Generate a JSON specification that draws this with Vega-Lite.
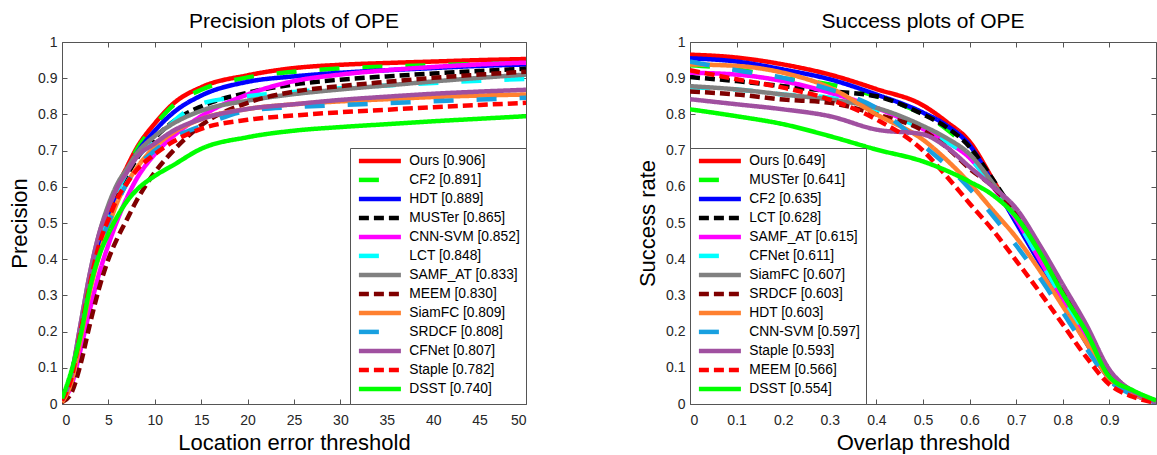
{
"$schema": "https://vega.github.io/schema/vega-lite/v6.json",
"background": "white",
"padding": {"left": 8, "top": 10, "right": 0, "bottom": 0},
"bounds": "flush",
"spacing": 164,
"config": {
  "font": "Liberation Sans",
  "view": {"stroke": "#555555", "strokeWidth": 1},
  "axis": {"grid": false, "domain": false, "tickSize": -5, "tickColor": "#555555", "tickWidth": 1, "labelColor": "#262626", "labelFontSize": 14, "titleFontSize": 22, "titleFontWeight": "normal", "titleColor": "#000000", "labelPadding": 10},
  "axisX": {"titlePadding": 5, "labelPadding": 14},
  "axisY": {"titlePadding": 6},
  "title": {"fontSize": 21, "fontWeight": "normal", "color": "#000000", "offset": 3}
},
"resolve": {"scale": {"color": "independent", "strokeDash": "independent"}, "legend": {"color": "independent", "strokeDash": "independent"}},
"datasets": {
"prec": [
{"m":"Ours [0.906]","t":0,"v":0.01},{"m":"Ours [0.906]","t":1,"v":0.08},{"m":"Ours [0.906]","t":2,"v":0.2},{"m":"Ours [0.906]","t":3,"v":0.33},{"m":"Ours [0.906]","t":4,"v":0.44},{"m":"Ours [0.906]","t":5,"v":0.52},{"m":"Ours [0.906]","t":6,"v":0.6},{"m":"Ours [0.906]","t":7,"v":0.655},{"m":"Ours [0.906]","t":8,"v":0.705},{"m":"Ours [0.906]","t":10,"v":0.775},{"m":"Ours [0.906]","t":12,"v":0.83},{"m":"Ours [0.906]","t":15,"v":0.875},{"m":"Ours [0.906]","t":20,"v":0.908},{"m":"Ours [0.906]","t":25,"v":0.928},{"m":"Ours [0.906]","t":30,"v":0.937},{"m":"Ours [0.906]","t":35,"v":0.942},{"m":"Ours [0.906]","t":40,"v":0.946},{"m":"Ours [0.906]","t":45,"v":0.95},{"m":"Ours [0.906]","t":50,"v":0.953},
{"m":"CF2 [0.891]","t":0,"v":0.01},{"m":"CF2 [0.891]","t":1,"v":0.08},{"m":"CF2 [0.891]","t":2,"v":0.2},{"m":"CF2 [0.891]","t":3,"v":0.33},{"m":"CF2 [0.891]","t":4,"v":0.44},{"m":"CF2 [0.891]","t":5,"v":0.52},{"m":"CF2 [0.891]","t":6,"v":0.6},{"m":"CF2 [0.891]","t":7,"v":0.65},{"m":"CF2 [0.891]","t":8,"v":0.7},{"m":"CF2 [0.891]","t":10,"v":0.77},{"m":"CF2 [0.891]","t":12,"v":0.825},{"m":"CF2 [0.891]","t":15,"v":0.868},{"m":"CF2 [0.891]","t":20,"v":0.902},{"m":"CF2 [0.891]","t":25,"v":0.918},{"m":"CF2 [0.891]","t":30,"v":0.927},{"m":"CF2 [0.891]","t":35,"v":0.932},{"m":"CF2 [0.891]","t":40,"v":0.936},{"m":"CF2 [0.891]","t":45,"v":0.939},{"m":"CF2 [0.891]","t":50,"v":0.941},
{"m":"HDT [0.889]","t":0,"v":0.01},{"m":"HDT [0.889]","t":1,"v":0.08},{"m":"HDT [0.889]","t":2,"v":0.2},{"m":"HDT [0.889]","t":3,"v":0.33},{"m":"HDT [0.889]","t":4,"v":0.44},{"m":"HDT [0.889]","t":5,"v":0.52},{"m":"HDT [0.889]","t":6,"v":0.59},{"m":"HDT [0.889]","t":7,"v":0.645},{"m":"HDT [0.889]","t":8,"v":0.69},{"m":"HDT [0.889]","t":10,"v":0.755},{"m":"HDT [0.889]","t":12,"v":0.805},{"m":"HDT [0.889]","t":15,"v":0.852},{"m":"HDT [0.889]","t":20,"v":0.89},{"m":"HDT [0.889]","t":25,"v":0.905},{"m":"HDT [0.889]","t":30,"v":0.915},{"m":"HDT [0.889]","t":35,"v":0.922},{"m":"HDT [0.889]","t":40,"v":0.928},{"m":"HDT [0.889]","t":45,"v":0.934},{"m":"HDT [0.889]","t":50,"v":0.938},
{"m":"MUSTer [0.865]","t":0,"v":0.01},{"m":"MUSTer [0.865]","t":1,"v":0.08},{"m":"MUSTer [0.865]","t":2,"v":0.19},{"m":"MUSTer [0.865]","t":3,"v":0.32},{"m":"MUSTer [0.865]","t":4,"v":0.43},{"m":"MUSTer [0.865]","t":5,"v":0.51},{"m":"MUSTer [0.865]","t":6,"v":0.58},{"m":"MUSTer [0.865]","t":7,"v":0.63},{"m":"MUSTer [0.865]","t":8,"v":0.675},{"m":"MUSTer [0.865]","t":10,"v":0.735},{"m":"MUSTer [0.865]","t":12,"v":0.78},{"m":"MUSTer [0.865]","t":15,"v":0.822},{"m":"MUSTer [0.865]","t":20,"v":0.86},{"m":"MUSTer [0.865]","t":25,"v":0.883},{"m":"MUSTer [0.865]","t":30,"v":0.896},{"m":"MUSTer [0.865]","t":35,"v":0.905},{"m":"MUSTer [0.865]","t":40,"v":0.913},{"m":"MUSTer [0.865]","t":45,"v":0.92},{"m":"MUSTer [0.865]","t":50,"v":0.926},
{"m":"CNN-SVM [0.852]","t":0,"v":0.01},{"m":"CNN-SVM [0.852]","t":1,"v":0.05},{"m":"CNN-SVM [0.852]","t":2,"v":0.15},{"m":"CNN-SVM [0.852]","t":3,"v":0.26},{"m":"CNN-SVM [0.852]","t":4,"v":0.36},{"m":"CNN-SVM [0.852]","t":5,"v":0.44},{"m":"CNN-SVM [0.852]","t":6,"v":0.51},{"m":"CNN-SVM [0.852]","t":7,"v":0.57},{"m":"CNN-SVM [0.852]","t":8,"v":0.62},{"m":"CNN-SVM [0.852]","t":10,"v":0.69},{"m":"CNN-SVM [0.852]","t":12,"v":0.74},{"m":"CNN-SVM [0.852]","t":15,"v":0.795},{"m":"CNN-SVM [0.852]","t":20,"v":0.855},{"m":"CNN-SVM [0.852]","t":25,"v":0.892},{"m":"CNN-SVM [0.852]","t":30,"v":0.91},{"m":"CNN-SVM [0.852]","t":35,"v":0.922},{"m":"CNN-SVM [0.852]","t":40,"v":0.931},{"m":"CNN-SVM [0.852]","t":45,"v":0.938},{"m":"CNN-SVM [0.852]","t":50,"v":0.943},
{"m":"LCT [0.848]","t":0,"v":0.01},{"m":"LCT [0.848]","t":1,"v":0.08},{"m":"LCT [0.848]","t":2,"v":0.2},{"m":"LCT [0.848]","t":3,"v":0.33},{"m":"LCT [0.848]","t":4,"v":0.44},{"m":"LCT [0.848]","t":5,"v":0.52},{"m":"LCT [0.848]","t":6,"v":0.59},{"m":"LCT [0.848]","t":7,"v":0.64},{"m":"LCT [0.848]","t":8,"v":0.68},{"m":"LCT [0.848]","t":10,"v":0.725},{"m":"LCT [0.848]","t":12,"v":0.78},{"m":"LCT [0.848]","t":15,"v":0.83},{"m":"LCT [0.848]","t":20,"v":0.85},{"m":"LCT [0.848]","t":25,"v":0.862},{"m":"LCT [0.848]","t":30,"v":0.872},{"m":"LCT [0.848]","t":35,"v":0.88},{"m":"LCT [0.848]","t":40,"v":0.887},{"m":"LCT [0.848]","t":45,"v":0.893},{"m":"LCT [0.848]","t":50,"v":0.898},
{"m":"SAMF_AT [0.833]","t":0,"v":0.01},{"m":"SAMF_AT [0.833]","t":1,"v":0.08},{"m":"SAMF_AT [0.833]","t":2,"v":0.22},{"m":"SAMF_AT [0.833]","t":3,"v":0.36},{"m":"SAMF_AT [0.833]","t":4,"v":0.47},{"m":"SAMF_AT [0.833]","t":5,"v":0.55},{"m":"SAMF_AT [0.833]","t":6,"v":0.61},{"m":"SAMF_AT [0.833]","t":7,"v":0.65},{"m":"SAMF_AT [0.833]","t":8,"v":0.69},{"m":"SAMF_AT [0.833]","t":10,"v":0.74},{"m":"SAMF_AT [0.833]","t":12,"v":0.775},{"m":"SAMF_AT [0.833]","t":15,"v":0.81},{"m":"SAMF_AT [0.833]","t":20,"v":0.838},{"m":"SAMF_AT [0.833]","t":25,"v":0.856},{"m":"SAMF_AT [0.833]","t":30,"v":0.869},{"m":"SAMF_AT [0.833]","t":35,"v":0.88},{"m":"SAMF_AT [0.833]","t":40,"v":0.891},{"m":"SAMF_AT [0.833]","t":45,"v":0.901},{"m":"SAMF_AT [0.833]","t":50,"v":0.91},
{"m":"MEEM [0.830]","t":0,"v":0.005},{"m":"MEEM [0.830]","t":1,"v":0.03},{"m":"MEEM [0.830]","t":2,"v":0.11},{"m":"MEEM [0.830]","t":3,"v":0.22},{"m":"MEEM [0.830]","t":4,"v":0.32},{"m":"MEEM [0.830]","t":5,"v":0.4},{"m":"MEEM [0.830]","t":6,"v":0.46},{"m":"MEEM [0.830]","t":7,"v":0.51},{"m":"MEEM [0.830]","t":8,"v":0.56},{"m":"MEEM [0.830]","t":10,"v":0.64},{"m":"MEEM [0.830]","t":12,"v":0.7},{"m":"MEEM [0.830]","t":15,"v":0.77},{"m":"MEEM [0.830]","t":20,"v":0.832},{"m":"MEEM [0.830]","t":25,"v":0.863},{"m":"MEEM [0.830]","t":30,"v":0.878},{"m":"MEEM [0.830]","t":35,"v":0.89},{"m":"MEEM [0.830]","t":40,"v":0.901},{"m":"MEEM [0.830]","t":45,"v":0.91},{"m":"MEEM [0.830]","t":50,"v":0.918},
{"m":"SiamFC [0.809]","t":0,"v":0.005},{"m":"SiamFC [0.809]","t":1,"v":0.06},{"m":"SiamFC [0.809]","t":2,"v":0.18},{"m":"SiamFC [0.809]","t":3,"v":0.31},{"m":"SiamFC [0.809]","t":4,"v":0.41},{"m":"SiamFC [0.809]","t":5,"v":0.49},{"m":"SiamFC [0.809]","t":6,"v":0.56},{"m":"SiamFC [0.809]","t":7,"v":0.61},{"m":"SiamFC [0.809]","t":8,"v":0.65},{"m":"SiamFC [0.809]","t":10,"v":0.71},{"m":"SiamFC [0.809]","t":12,"v":0.75},{"m":"SiamFC [0.809]","t":15,"v":0.787},{"m":"SiamFC [0.809]","t":20,"v":0.815},{"m":"SiamFC [0.809]","t":25,"v":0.828},{"m":"SiamFC [0.809]","t":30,"v":0.836},{"m":"SiamFC [0.809]","t":35,"v":0.842},{"m":"SiamFC [0.809]","t":40,"v":0.848},{"m":"SiamFC [0.809]","t":45,"v":0.852},{"m":"SiamFC [0.809]","t":50,"v":0.855},
{"m":"SRDCF [0.808]","t":0,"v":0.01},{"m":"SRDCF [0.808]","t":1,"v":0.08},{"m":"SRDCF [0.808]","t":2,"v":0.21},{"m":"SRDCF [0.808]","t":3,"v":0.33},{"m":"SRDCF [0.808]","t":4,"v":0.43},{"m":"SRDCF [0.808]","t":5,"v":0.5},{"m":"SRDCF [0.808]","t":6,"v":0.56},{"m":"SRDCF [0.808]","t":7,"v":0.61},{"m":"SRDCF [0.808]","t":8,"v":0.65},{"m":"SRDCF [0.808]","t":10,"v":0.7},{"m":"SRDCF [0.808]","t":12,"v":0.735},{"m":"SRDCF [0.808]","t":15,"v":0.768},{"m":"SRDCF [0.808]","t":20,"v":0.81},{"m":"SRDCF [0.808]","t":25,"v":0.82},{"m":"SRDCF [0.808]","t":30,"v":0.826},{"m":"SRDCF [0.808]","t":35,"v":0.831},{"m":"SRDCF [0.808]","t":40,"v":0.836},{"m":"SRDCF [0.808]","t":45,"v":0.841},{"m":"SRDCF [0.808]","t":50,"v":0.846},
{"m":"CFNet [0.807]","t":0,"v":0.01},{"m":"CFNet [0.807]","t":1,"v":0.08},{"m":"CFNet [0.807]","t":2,"v":0.22},{"m":"CFNet [0.807]","t":3,"v":0.36},{"m":"CFNet [0.807]","t":4,"v":0.47},{"m":"CFNet [0.807]","t":5,"v":0.54},{"m":"CFNet [0.807]","t":6,"v":0.6},{"m":"CFNet [0.807]","t":7,"v":0.64},{"m":"CFNet [0.807]","t":8,"v":0.68},{"m":"CFNet [0.807]","t":10,"v":0.72},{"m":"CFNet [0.807]","t":12,"v":0.755},{"m":"CFNet [0.807]","t":15,"v":0.787},{"m":"CFNet [0.807]","t":20,"v":0.815},{"m":"CFNet [0.807]","t":25,"v":0.828},{"m":"CFNet [0.807]","t":30,"v":0.84},{"m":"CFNet [0.807]","t":35,"v":0.849},{"m":"CFNet [0.807]","t":40,"v":0.857},{"m":"CFNet [0.807]","t":45,"v":0.863},{"m":"CFNet [0.807]","t":50,"v":0.868},
{"m":"Staple [0.782]","t":0,"v":0.01},{"m":"Staple [0.782]","t":1,"v":0.07},{"m":"Staple [0.782]","t":2,"v":0.2},{"m":"Staple [0.782]","t":3,"v":0.33},{"m":"Staple [0.782]","t":4,"v":0.44},{"m":"Staple [0.782]","t":5,"v":0.51},{"m":"Staple [0.782]","t":6,"v":0.57},{"m":"Staple [0.782]","t":7,"v":0.61},{"m":"Staple [0.782]","t":8,"v":0.645},{"m":"Staple [0.782]","t":10,"v":0.69},{"m":"Staple [0.782]","t":12,"v":0.725},{"m":"Staple [0.782]","t":15,"v":0.76},{"m":"Staple [0.782]","t":20,"v":0.785},{"m":"Staple [0.782]","t":25,"v":0.797},{"m":"Staple [0.782]","t":30,"v":0.806},{"m":"Staple [0.782]","t":35,"v":0.813},{"m":"Staple [0.782]","t":40,"v":0.82},{"m":"Staple [0.782]","t":45,"v":0.826},{"m":"Staple [0.782]","t":50,"v":0.832},
{"m":"DSST [0.740]","t":0,"v":0.015},{"m":"DSST [0.740]","t":1,"v":0.09},{"m":"DSST [0.740]","t":2,"v":0.19},{"m":"DSST [0.740]","t":3,"v":0.32},{"m":"DSST [0.740]","t":4,"v":0.41},{"m":"DSST [0.740]","t":5,"v":0.47},{"m":"DSST [0.740]","t":6,"v":0.52},{"m":"DSST [0.740]","t":7,"v":0.56},{"m":"DSST [0.740]","t":8,"v":0.59},{"m":"DSST [0.740]","t":10,"v":0.63},{"m":"DSST [0.740]","t":12,"v":0.66},{"m":"DSST [0.740]","t":15,"v":0.705},{"m":"DSST [0.740]","t":20,"v":0.737},{"m":"DSST [0.740]","t":25,"v":0.755},{"m":"DSST [0.740]","t":30,"v":0.765},{"m":"DSST [0.740]","t":35,"v":0.773},{"m":"DSST [0.740]","t":40,"v":0.781},{"m":"DSST [0.740]","t":45,"v":0.788},{"m":"DSST [0.740]","t":50,"v":0.795}
],
"succ": [
{"m":"Ours [0.649]","t":0,"v":0.965},{"m":"Ours [0.649]","t":0.1,"v":0.957},{"m":"Ours [0.649]","t":0.2,"v":0.938},{"m":"Ours [0.649]","t":0.3,"v":0.91},{"m":"Ours [0.649]","t":0.4,"v":0.87},{"m":"Ours [0.649]","t":0.5,"v":0.825},{"m":"Ours [0.649]","t":0.55,"v":0.78},{"m":"Ours [0.649]","t":0.6,"v":0.725},{"m":"Ours [0.649]","t":0.65,"v":0.62},{"m":"Ours [0.649]","t":0.7,"v":0.51},{"m":"Ours [0.649]","t":0.75,"v":0.4},{"m":"Ours [0.649]","t":0.8,"v":0.29},{"m":"Ours [0.649]","t":0.85,"v":0.18},{"m":"Ours [0.649]","t":0.9,"v":0.075},{"m":"Ours [0.649]","t":0.95,"v":0.03},{"m":"Ours [0.649]","t":1,"v":0.005},
{"m":"MUSTer [0.641]","t":0,"v":0.936},{"m":"MUSTer [0.641]","t":0.1,"v":0.925},{"m":"MUSTer [0.641]","t":0.2,"v":0.9},{"m":"MUSTer [0.641]","t":0.3,"v":0.883},{"m":"MUSTer [0.641]","t":0.4,"v":0.85},{"m":"MUSTer [0.641]","t":0.5,"v":0.8},{"m":"MUSTer [0.641]","t":0.55,"v":0.76},{"m":"MUSTer [0.641]","t":0.6,"v":0.7},{"m":"MUSTer [0.641]","t":0.65,"v":0.61},{"m":"MUSTer [0.641]","t":0.7,"v":0.53},{"m":"MUSTer [0.641]","t":0.75,"v":0.43},{"m":"MUSTer [0.641]","t":0.8,"v":0.31},{"m":"MUSTer [0.641]","t":0.85,"v":0.2},{"m":"MUSTer [0.641]","t":0.9,"v":0.085},{"m":"MUSTer [0.641]","t":0.95,"v":0.035},{"m":"MUSTer [0.641]","t":1,"v":0.005},
{"m":"CF2 [0.635]","t":0,"v":0.955},{"m":"CF2 [0.635]","t":0.1,"v":0.946},{"m":"CF2 [0.635]","t":0.2,"v":0.924},{"m":"CF2 [0.635]","t":0.3,"v":0.897},{"m":"CF2 [0.635]","t":0.4,"v":0.855},{"m":"CF2 [0.635]","t":0.5,"v":0.805},{"m":"CF2 [0.635]","t":0.55,"v":0.77},{"m":"CF2 [0.635]","t":0.6,"v":0.715},{"m":"CF2 [0.635]","t":0.65,"v":0.61},{"m":"CF2 [0.635]","t":0.7,"v":0.5},{"m":"CF2 [0.635]","t":0.75,"v":0.39},{"m":"CF2 [0.635]","t":0.8,"v":0.28},{"m":"CF2 [0.635]","t":0.85,"v":0.17},{"m":"CF2 [0.635]","t":0.9,"v":0.07},{"m":"CF2 [0.635]","t":0.95,"v":0.028},{"m":"CF2 [0.635]","t":1,"v":0.005},
{"m":"LCT [0.628]","t":0,"v":0.903},{"m":"LCT [0.628]","t":0.1,"v":0.892},{"m":"LCT [0.628]","t":0.2,"v":0.878},{"m":"LCT [0.628]","t":0.3,"v":0.864},{"m":"LCT [0.628]","t":0.4,"v":0.85},{"m":"LCT [0.628]","t":0.5,"v":0.8},{"m":"LCT [0.628]","t":0.55,"v":0.765},{"m":"LCT [0.628]","t":0.6,"v":0.71},{"m":"LCT [0.628]","t":0.65,"v":0.62},{"m":"LCT [0.628]","t":0.7,"v":0.52},{"m":"LCT [0.628]","t":0.75,"v":0.41},{"m":"LCT [0.628]","t":0.8,"v":0.3},{"m":"LCT [0.628]","t":0.85,"v":0.19},{"m":"LCT [0.628]","t":0.9,"v":0.08},{"m":"LCT [0.628]","t":0.95,"v":0.03},{"m":"LCT [0.628]","t":1,"v":0.005},
{"m":"SAMF_AT [0.615]","t":0,"v":0.915},{"m":"SAMF_AT [0.615]","t":0.1,"v":0.91},{"m":"SAMF_AT [0.615]","t":0.2,"v":0.892},{"m":"SAMF_AT [0.615]","t":0.3,"v":0.86},{"m":"SAMF_AT [0.615]","t":0.4,"v":0.818},{"m":"SAMF_AT [0.615]","t":0.5,"v":0.76},{"m":"SAMF_AT [0.615]","t":0.55,"v":0.725},{"m":"SAMF_AT [0.615]","t":0.6,"v":0.68},{"m":"SAMF_AT [0.615]","t":0.65,"v":0.6},{"m":"SAMF_AT [0.615]","t":0.7,"v":0.51},{"m":"SAMF_AT [0.615]","t":0.75,"v":0.4},{"m":"SAMF_AT [0.615]","t":0.8,"v":0.29},{"m":"SAMF_AT [0.615]","t":0.85,"v":0.18},{"m":"SAMF_AT [0.615]","t":0.9,"v":0.075},{"m":"SAMF_AT [0.615]","t":0.95,"v":0.03},{"m":"SAMF_AT [0.615]","t":1,"v":0.005},
{"m":"CFNet [0.611]","t":0,"v":0.875},{"m":"CFNet [0.611]","t":0.1,"v":0.869},{"m":"CFNet [0.611]","t":0.2,"v":0.855},{"m":"CFNet [0.611]","t":0.3,"v":0.846},{"m":"CFNet [0.611]","t":0.4,"v":0.81},{"m":"CFNet [0.611]","t":0.5,"v":0.76},{"m":"CFNet [0.611]","t":0.55,"v":0.725},{"m":"CFNet [0.611]","t":0.6,"v":0.68},{"m":"CFNet [0.611]","t":0.65,"v":0.6},{"m":"CFNet [0.611]","t":0.7,"v":0.51},{"m":"CFNet [0.611]","t":0.75,"v":0.4},{"m":"CFNet [0.611]","t":0.8,"v":0.29},{"m":"CFNet [0.611]","t":0.85,"v":0.18},{"m":"CFNet [0.611]","t":0.9,"v":0.075},{"m":"CFNet [0.611]","t":0.95,"v":0.03},{"m":"CFNet [0.611]","t":1,"v":0.005},
{"m":"SiamFC [0.607]","t":0,"v":0.878},{"m":"SiamFC [0.607]","t":0.1,"v":0.869},{"m":"SiamFC [0.607]","t":0.2,"v":0.855},{"m":"SiamFC [0.607]","t":0.3,"v":0.841},{"m":"SiamFC [0.607]","t":0.4,"v":0.818},{"m":"SiamFC [0.607]","t":0.5,"v":0.768},{"m":"SiamFC [0.607]","t":0.55,"v":0.735},{"m":"SiamFC [0.607]","t":0.6,"v":0.69},{"m":"SiamFC [0.607]","t":0.65,"v":0.61},{"m":"SiamFC [0.607]","t":0.7,"v":0.52},{"m":"SiamFC [0.607]","t":0.75,"v":0.42},{"m":"SiamFC [0.607]","t":0.8,"v":0.31},{"m":"SiamFC [0.607]","t":0.85,"v":0.2},{"m":"SiamFC [0.607]","t":0.9,"v":0.085},{"m":"SiamFC [0.607]","t":0.95,"v":0.033},{"m":"SiamFC [0.607]","t":1,"v":0.005},
{"m":"SRDCF [0.603]","t":0,"v":0.863},{"m":"SRDCF [0.603]","t":0.1,"v":0.855},{"m":"SRDCF [0.603]","t":0.2,"v":0.841},{"m":"SRDCF [0.603]","t":0.3,"v":0.832},{"m":"SRDCF [0.603]","t":0.4,"v":0.8},{"m":"SRDCF [0.603]","t":0.5,"v":0.755},{"m":"SRDCF [0.603]","t":0.55,"v":0.71},{"m":"SRDCF [0.603]","t":0.6,"v":0.65},{"m":"SRDCF [0.603]","t":0.65,"v":0.6},{"m":"SRDCF [0.603]","t":0.7,"v":0.525},{"m":"SRDCF [0.603]","t":0.75,"v":0.43},{"m":"SRDCF [0.603]","t":0.8,"v":0.325},{"m":"SRDCF [0.603]","t":0.85,"v":0.21},{"m":"SRDCF [0.603]","t":0.9,"v":0.09},{"m":"SRDCF [0.603]","t":0.95,"v":0.035},{"m":"SRDCF [0.603]","t":1,"v":0.005},
{"m":"HDT [0.603]","t":0,"v":0.938},{"m":"HDT [0.603]","t":0.1,"v":0.934},{"m":"HDT [0.603]","t":0.2,"v":0.915},{"m":"HDT [0.603]","t":0.3,"v":0.874},{"m":"HDT [0.603]","t":0.4,"v":0.8},{"m":"HDT [0.603]","t":0.5,"v":0.73},{"m":"HDT [0.603]","t":0.55,"v":0.675},{"m":"HDT [0.603]","t":0.6,"v":0.61},{"m":"HDT [0.603]","t":0.65,"v":0.535},{"m":"HDT [0.603]","t":0.7,"v":0.46},{"m":"HDT [0.603]","t":0.75,"v":0.37},{"m":"HDT [0.603]","t":0.8,"v":0.27},{"m":"HDT [0.603]","t":0.85,"v":0.17},{"m":"HDT [0.603]","t":0.9,"v":0.07},{"m":"HDT [0.603]","t":0.95,"v":0.028},{"m":"HDT [0.603]","t":1,"v":0.005},
{"m":"CNN-SVM [0.597]","t":0,"v":0.946},{"m":"CNN-SVM [0.597]","t":0.1,"v":0.922},{"m":"CNN-SVM [0.597]","t":0.2,"v":0.901},{"m":"CNN-SVM [0.597]","t":0.3,"v":0.869},{"m":"CNN-SVM [0.597]","t":0.4,"v":0.818},{"m":"CNN-SVM [0.597]","t":0.5,"v":0.715},{"m":"CNN-SVM [0.597]","t":0.55,"v":0.66},{"m":"CNN-SVM [0.597]","t":0.6,"v":0.595},{"m":"CNN-SVM [0.597]","t":0.65,"v":0.52},{"m":"CNN-SVM [0.597]","t":0.7,"v":0.438},{"m":"CNN-SVM [0.597]","t":0.75,"v":0.35},{"m":"CNN-SVM [0.597]","t":0.8,"v":0.253},{"m":"CNN-SVM [0.597]","t":0.85,"v":0.155},{"m":"CNN-SVM [0.597]","t":0.9,"v":0.065},{"m":"CNN-SVM [0.597]","t":0.95,"v":0.025},{"m":"CNN-SVM [0.597]","t":1,"v":0.005},
{"m":"Staple [0.593]","t":0,"v":0.842},{"m":"Staple [0.593]","t":0.1,"v":0.828},{"m":"Staple [0.593]","t":0.2,"v":0.814},{"m":"Staple [0.593]","t":0.3,"v":0.795},{"m":"Staple [0.593]","t":0.4,"v":0.758},{"m":"Staple [0.593]","t":0.5,"v":0.745},{"m":"Staple [0.593]","t":0.55,"v":0.71},{"m":"Staple [0.593]","t":0.6,"v":0.655},{"m":"Staple [0.593]","t":0.65,"v":0.6},{"m":"Staple [0.593]","t":0.7,"v":0.54},{"m":"Staple [0.593]","t":0.75,"v":0.44},{"m":"Staple [0.593]","t":0.8,"v":0.33},{"m":"Staple [0.593]","t":0.85,"v":0.22},{"m":"Staple [0.593]","t":0.9,"v":0.095},{"m":"Staple [0.593]","t":0.95,"v":0.035},{"m":"Staple [0.593]","t":1,"v":0.005},
{"m":"MEEM [0.566]","t":0,"v":0.922},{"m":"MEEM [0.566]","t":0.1,"v":0.897},{"m":"MEEM [0.566]","t":0.2,"v":0.874},{"m":"MEEM [0.566]","t":0.3,"v":0.841},{"m":"MEEM [0.566]","t":0.4,"v":0.786},{"m":"MEEM [0.566]","t":0.5,"v":0.7},{"m":"MEEM [0.566]","t":0.55,"v":0.63},{"m":"MEEM [0.566]","t":0.6,"v":0.554},{"m":"MEEM [0.566]","t":0.65,"v":0.48},{"m":"MEEM [0.566]","t":0.7,"v":0.396},{"m":"MEEM [0.566]","t":0.75,"v":0.31},{"m":"MEEM [0.566]","t":0.8,"v":0.22},{"m":"MEEM [0.566]","t":0.85,"v":0.13},{"m":"MEEM [0.566]","t":0.9,"v":0.054},{"m":"MEEM [0.566]","t":0.95,"v":0.02},{"m":"MEEM [0.566]","t":1,"v":0.003},
{"m":"DSST [0.554]","t":0,"v":0.814},{"m":"DSST [0.554]","t":0.1,"v":0.795},{"m":"DSST [0.554]","t":0.2,"v":0.773},{"m":"DSST [0.554]","t":0.3,"v":0.74},{"m":"DSST [0.554]","t":0.4,"v":0.703},{"m":"DSST [0.554]","t":0.5,"v":0.67},{"m":"DSST [0.554]","t":0.55,"v":0.645},{"m":"DSST [0.554]","t":0.6,"v":0.614},{"m":"DSST [0.554]","t":0.65,"v":0.577},{"m":"DSST [0.554]","t":0.7,"v":0.517},{"m":"DSST [0.554]","t":0.75,"v":0.42},{"m":"DSST [0.554]","t":0.8,"v":0.304},{"m":"DSST [0.554]","t":0.85,"v":0.2},{"m":"DSST [0.554]","t":0.9,"v":0.075},{"m":"DSST [0.554]","t":0.95,"v":0.038},{"m":"DSST [0.554]","t":1,"v":0.01}
]
},
"hconcat": [
{
  "width": 464, "height": 362,
  "title": "Precision plots of OPE",
  "data": {"name": "prec"},
  "layer": [
    {
      "mark": {"type": "line", "strokeWidth": 4.5, "interpolate": "monotone", "clip": true},
      "encoding": {
        "x": {"field": "t", "type": "quantitative", "scale": {"domain": [0, 50], "nice": false, "zero": false}, "axis": {"title": "Location error threshold", "values": [0,5,10,15,20,25,30,35,40,45,50]}},
        "y": {"field": "v", "type": "quantitative", "scale": {"domain": [0, 1], "nice": false}, "axis": {"title": "Precision", "values": [0,0.1,0.2,0.3,0.4,0.5,0.6,0.7,0.8,0.9,1], "format": "~g"}},
        "color": {"field": "m", "type": "nominal",
          "scale": {"domain": ["Ours [0.906]","CF2 [0.891]","HDT [0.889]","MUSTer [0.865]","CNN-SVM [0.852]","LCT [0.848]","SAMF_AT [0.833]","MEEM [0.830]","SiamFC [0.809]","SRDCF [0.808]","CFNet [0.807]","Staple [0.782]","DSST [0.740]"],
                    "range": ["#FF0000","#00FF00","#0000FF","#000000","#FF00FF","#00FFFF","#808080","#800000","#FF8030","#18A0E0","#A050A0","#FF0000","#00FF00"]},
          "legend": {"orient": "bottom-right", "offset": 0, "title": null, "symbolType": "M-10.5,0H10.5", "symbolSize": 16, "symbolStrokeWidth": 4.5, "symbolOffset": 17, "labelOffset": 22.5, "labelFontSize": 13.8, "labelColor": "#000000", "rowPadding": 0, "padding": 6, "strokeColor": "#555555", "fillColor": "#FFFFFF", "labelLimit": 300}},
        "strokeDash": {"field": "m", "type": "nominal",
          "scale": {"domain": ["Ours [0.906]","CF2 [0.891]","HDT [0.889]","MUSTer [0.865]","CNN-SVM [0.852]","LCT [0.848]","SAMF_AT [0.833]","MEEM [0.830]","SiamFC [0.809]","SRDCF [0.808]","CFNet [0.807]","Staple [0.782]","DSST [0.740]"],
                    "range": [[1,0],[20,23],[1,0],[10,5],[1,0],[20,23],[1,0],[10,5],[1,0],[20,23],[1,0],[10,5],[1,0]]},
          "legend": {"orient": "bottom-right", "offset": 0, "title": null, "symbolType": "M-10.5,0H10.5", "symbolSize": 16, "symbolStrokeWidth": 4.5, "symbolOffset": 17, "labelOffset": 22.5, "labelFontSize": 13.8, "labelColor": "#000000", "rowPadding": 0, "padding": 6, "strokeColor": "#555555", "fillColor": "#FFFFFF", "labelLimit": 300}}
      }
    },
    {
      "mark": {"type": "line", "strokeOpacity": 0},
      "encoding": {
        "x": {"field": "t", "type": "quantitative", "axis": {"orient": "top", "labels": false, "title": null, "values": [0,5,10,15,20,25,30,35,40,45,50]}},
        "y": {"field": "v", "type": "quantitative", "axis": {"orient": "right", "labels": false, "title": null, "values": [0,0.1,0.2,0.3,0.4,0.5,0.6,0.7,0.8,0.9,1]}},
        "detail": {"field": "m", "type": "nominal"}
      }
    }
  ],
  "resolve": {"axis": {"x": "independent", "y": "independent"}}
},
{
  "width": 466, "height": 362,
  "title": "Success plots of OPE",
  "data": {"name": "succ"},
  "layer": [
    {
      "mark": {"type": "line", "strokeWidth": 4.5, "interpolate": "monotone", "clip": true},
      "encoding": {
        "x": {"field": "t", "type": "quantitative", "scale": {"domain": [0, 1], "nice": false}, "axis": {"title": "Overlap threshold", "values": [0,0.1,0.2,0.3,0.4,0.5,0.6,0.7,0.8,0.9], "format": "~g"}},
        "y": {"field": "v", "type": "quantitative", "scale": {"domain": [0, 1], "nice": false}, "axis": {"title": "Success rate", "values": [0,0.1,0.2,0.3,0.4,0.5,0.6,0.7,0.8,0.9,1], "format": "~g"}},
        "color": {"field": "m", "type": "nominal",
          "scale": {"domain": ["Ours [0.649]","MUSTer [0.641]","CF2 [0.635]","LCT [0.628]","SAMF_AT [0.615]","CFNet [0.611]","SiamFC [0.607]","SRDCF [0.603]","HDT [0.603]","CNN-SVM [0.597]","Staple [0.593]","MEEM [0.566]","DSST [0.554]"],
                    "range": ["#FF0000","#00FF00","#0000FF","#000000","#FF00FF","#00FFFF","#808080","#800000","#FF8030","#18A0E0","#A050A0","#FF0000","#00FF00"]},
          "legend": {"orient": "bottom-left", "offset": 0, "title": null, "symbolType": "M-10.5,0H10.5", "symbolSize": 16, "symbolStrokeWidth": 4.5, "symbolOffset": 17, "labelOffset": 22.5, "labelFontSize": 13.8, "labelColor": "#000000", "rowPadding": 0, "padding": 6, "strokeColor": "#555555", "fillColor": "#FFFFFF", "labelLimit": 300}},
        "strokeDash": {"field": "m", "type": "nominal",
          "scale": {"domain": ["Ours [0.649]","MUSTer [0.641]","CF2 [0.635]","LCT [0.628]","SAMF_AT [0.615]","CFNet [0.611]","SiamFC [0.607]","SRDCF [0.603]","HDT [0.603]","CNN-SVM [0.597]","Staple [0.593]","MEEM [0.566]","DSST [0.554]"],
                    "range": [[1,0],[20,23],[1,0],[10,5],[1,0],[20,23],[1,0],[10,5],[1,0],[20,23],[1,0],[10,5],[1,0]]},
          "legend": {"orient": "bottom-left", "offset": 0, "title": null, "symbolType": "M-10.5,0H10.5", "symbolSize": 16, "symbolStrokeWidth": 4.5, "symbolOffset": 17, "labelOffset": 22.5, "labelFontSize": 13.8, "labelColor": "#000000", "rowPadding": 0, "padding": 6, "strokeColor": "#555555", "fillColor": "#FFFFFF", "labelLimit": 300}}
      }
    },
    {
      "mark": {"type": "line", "strokeOpacity": 0},
      "encoding": {
        "x": {"field": "t", "type": "quantitative", "axis": {"orient": "top", "labels": false, "title": null, "values": [0,0.1,0.2,0.3,0.4,0.5,0.6,0.7,0.8,0.9]}},
        "y": {"field": "v", "type": "quantitative", "axis": {"orient": "right", "labels": false, "title": null, "values": [0,0.1,0.2,0.3,0.4,0.5,0.6,0.7,0.8,0.9,1]}},
        "detail": {"field": "m", "type": "nominal"}
      }
    }
  ],
  "resolve": {"axis": {"x": "independent", "y": "independent"}}
}
]
}
